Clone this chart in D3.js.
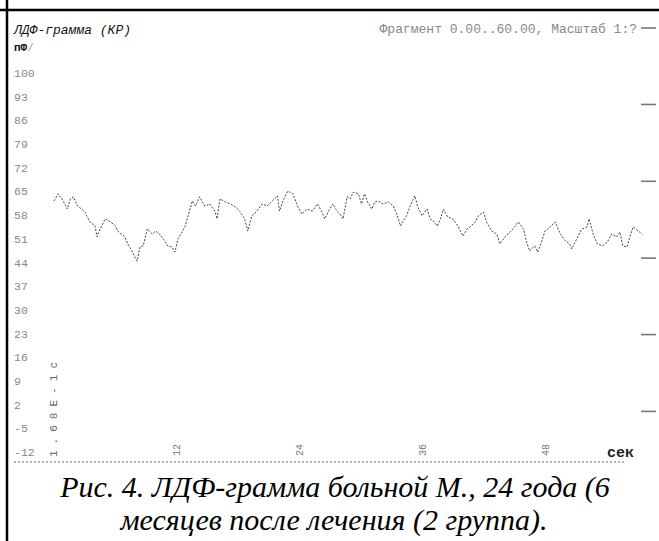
<!DOCTYPE html>
<html><head><meta charset="utf-8">
<script src="https://cdn.jsdelivr.net/npm/d3@7"></script>
<style>body{margin:0;background:#fff}svg{display:block}</style>
</head><body>
<svg id="c" width="659" height="541"></svg>
<script>
const title = "ЛДФ-грамма (КР)";
const unitLabel = "пФ";
const fragmentText = "Фрагмент 0.00..60.00, Масштаб 1:?";
const yTicks = [100, 93, 86, 79, 72, 65, 58, 51, 44, 37, 30, 23, 16, 9, 2, -5, -12];
const rightTicks = [0, 22.7, 45.3, 68, 90.7, 113.3];
const xTicks = [12, 24, 36, 48];
const firstXLabel = "1.68Е-1с";
const xUnit = "сек";
const caption1 = "Рис. 4. ЛДФ-грамма больной М., 24 года (6";
const caption2 = "месяцев после лечения (2 группа).";
const times = [0,0.4,0.9,1.3,1.6,1.9,2.3,2.7,3.0,3.5,4.0,4.2,4.5,5.0,5.5,6.0,6.2,6.9,7.2,7.6,8.1,8.4,8.7,9.1,9.6,9.9,10.3,10.8,11.1,11.5,11.8,12.1,12.5,12.8,13.0,13.5,13.8,14.2,14.7,15.2,15.7,15.9,16.2,16.7,17.2,17.7,18.1,18.6,18.9,19.3,19.8,20.3,20.8,21.3,21.8,22.0,22.3,22.8,23.3,23.8,24.2,24.7,25.2,25.7,26.1,26.4,26.9,27.2,27.6,27.9,28.2,28.6,28.9,29.2,29.7,30.0,30.3,30.6,31.0,31.3,31.6,32.1,32.6,33.1,33.5,33.8,34.0,34.4,34.7,35.2,35.5,35.9,36.4,36.7,37.0,37.4,37.7,38.0,38.4,38.9,39.4,39.9,40.3,40.6,41.1,41.4,41.9,42.2,42.7,43.2,43.5,44.0,44.5,45.0,45.3,45.8,46.1,46.4,46.9,47.2,47.6,47.9,48.4,48.9,49.4,49.9,50.3,50.5,51.0,51.5,52.0,52.2,52.6,53.0,53.5,54.0,54.4,54.9,55.2,55.5,55.9,56.2,56.5,57.0,57.4];
const values = [62.2,64.3,62.2,59.8,62.8,63.4,60.7,59.8,58.9,56.0,54.8,51.6,53.9,56.9,56.0,54.8,53.3,51.6,49.5,47.4,44.4,48.6,48.9,53.9,52.4,53.3,52.4,50.4,48.9,48.6,47.1,51.0,53.0,54.8,56.9,62.2,60.7,63.4,60.7,61.3,59.2,56.9,62.8,61.9,61.3,60.4,59.2,56.9,53.3,57.8,59.2,61.3,60.7,62.2,63.7,59.2,61.9,65.1,64.3,60.4,58.3,59.8,59.2,61.3,59.2,56.9,59.8,61.3,59.2,58.3,56.9,63.4,62.8,64.8,64.3,61.3,64.3,61.9,59.8,61.9,62.2,61.3,61.9,60.7,57.8,54.8,56.0,57.8,60.4,63.7,60.4,57.8,59.8,56.9,56.3,54.8,56.9,59.8,57.5,56.9,54.8,51.8,53.9,54.5,56.0,57.8,58.9,56.0,53.3,52.4,49.5,51.6,53.0,54.8,56.0,53.9,50.1,47.4,48.9,47.1,50.4,53.3,54.5,56.0,52.4,50.4,49.5,48.0,51.0,53.9,54.5,56.9,52.4,49.5,48.9,50.1,52.4,51.6,53.0,48.9,48.6,51.8,54.5,53.3,52.4];

const svg = d3.select("#c");
const x = d3.scaleLinear().domain([0, 60]).range([54, 669]);
const y = d3.scaleLinear().domain([-12, 100]).range([452, 73]);
const mono = "'Liberation Mono','DejaVu Sans Mono',monospace";

// table borders
svg.append("line").attr("x1",0).attr("x2",659).attr("y1",10).attr("y2",10).attr("stroke","#000").attr("stroke-width",2.5);
svg.append("line").attr("x1",7).attr("x2",7).attr("y1",0).attr("y2",541).attr("stroke","#000").attr("stroke-width",2.5);

// header
svg.append("text").attr("x",14).attr("y",34).attr("font-family",mono).attr("font-style","italic")
  .attr("font-size",13).attr("fill","#111").text(title);
const u = svg.append("text").attr("x",14).attr("y",51).attr("font-family",mono).attr("font-size",11).attr("font-weight","bold").attr("fill","#111");
u.append("tspan").text(unitLabel);
u.append("tspan").attr("fill","#999").attr("font-weight","normal").text("/");
svg.append("text").attr("x",637).attr("y",33).attr("text-anchor","end").attr("font-family",mono)
  .attr("font-size",13).attr("fill","#888").text(fragmentText);

// y axis labels
svg.append("g").selectAll("text").data(yTicks).join("text")
  .attr("x",14).attr("y",d=>y(d)).attr("dy","0.35em").attr("font-family",mono).attr("font-size",11.5)
  .attr("fill","#888").text(d=>d);

// right ticks
svg.append("g").selectAll("line").data(rightTicks).join("line")
  .attr("x1",641).attr("x2",656).attr("y1",d=>y(d)).attr("y2",d=>y(d)).attr("stroke","#777").attr("stroke-width",1.6);

// x axis dotted baseline
svg.append("line").attr("x1",14).attr("x2",626).attr("y1",462).attr("y2",462)
  .attr("stroke","#666").attr("stroke-width",1).attr("stroke-dasharray","2,2");

// x tick labels (rotated)
svg.append("g").selectAll("text").data(xTicks).join("text")
  .attr("transform",d=>`translate(${x(d)+3},456) rotate(-90)`)
  .attr("font-family",mono).attr("font-size",10).attr("fill","#777").text(d=>d);
svg.append("text").attr("transform",`translate(${x(0)+3},457) rotate(-90)`)
  .attr("font-family",mono).attr("font-size",11).attr("fill","#666")
  .attr("textLength",95).attr("lengthAdjust","spacing").text(firstXLabel);
svg.append("text").attr("x",607).attr("y",457).attr("font-family",mono).attr("font-size",15)
  .attr("font-weight","bold").attr("fill","#222").text(xUnit);

// signal
const data = times.map((t,i)=>({t, v: values[i]}));
svg.append("path").datum(data)
  .attr("d", d3.line().x(d=>x(d.t)).y(d=>y(d.v)))
  .attr("fill","none").attr("stroke","#444").attr("stroke-width",1)
  .attr("stroke-dasharray","2,1.5");

// caption
const serif = "'Liberation Serif','Times New Roman',serif";
svg.append("text").attr("x",335).attr("y",496.5).attr("text-anchor","middle")
  .attr("font-family",serif).attr("font-style","italic").attr("font-size",30).attr("fill","#000").text(caption1);
svg.append("text").attr("x",334).attr("y",530).attr("text-anchor","middle")
  .attr("font-family",serif).attr("font-style","italic").attr("font-size",30).attr("fill","#000").text(caption2);
</script>
</body></html>
